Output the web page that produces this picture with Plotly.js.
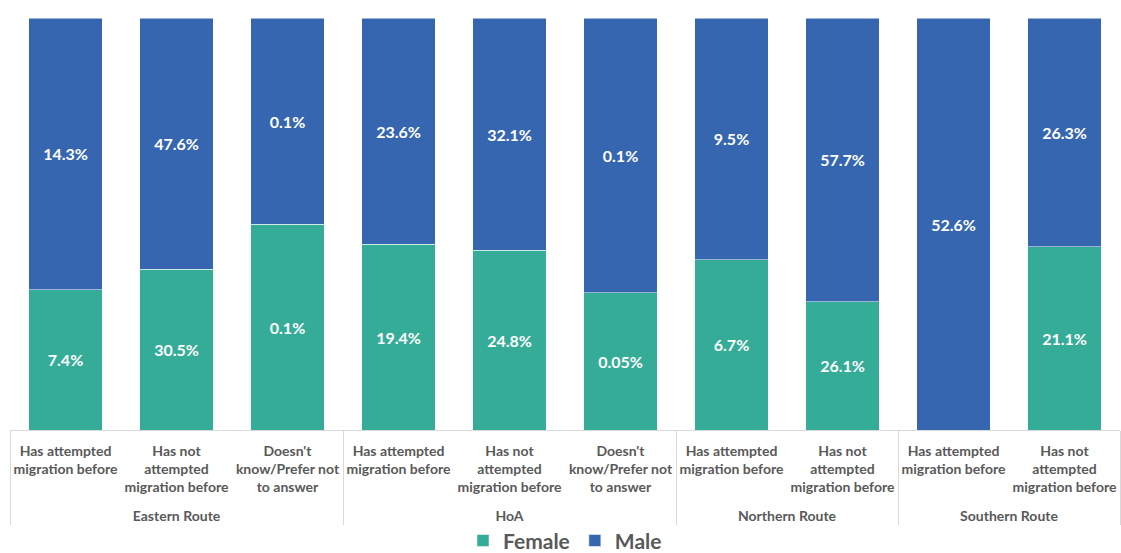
<!DOCTYPE html>
<html>
<head>
<meta charset="utf-8">
<script src="https://cdn.plot.ly/plotly-3.0.1.min.js"></script>
<style>html,body{margin:0;padding:0;background:#fff;}#chart{width:1121px;height:553px;}</style>
</head>
<body>
<div id="chart"></div>
<script>
const groups = ["Eastern Route","Eastern Route","Eastern Route","HoA","HoA","HoA","Northern Route","Northern Route","Southern Route","Southern Route"];
const subcats = [
  "Has attempted<br>migration before<br> <br> ",
  "Has not<br>attempted<br>migration before<br> ",
  "Doesn't<br>know/Prefer not<br>to answer<br> ",
  "Has attempted<br>migration before<br> <br>  ",
  "Has not<br>attempted<br>migration before<br>  ",
  "Doesn't<br>know/Prefer not<br>to answer<br>  ",
  "Has attempted<br>migration before<br> <br>   ",
  "Has not<br>attempted<br>migration before<br>   ",
  "Has attempted<br>migration before<br> <br>    ",
  "Has not<br>attempted<br>migration before<br>    "
];
const female = [7.4, 30.5, 0.1, 19.4, 24.8, 0.05, 6.7, 26.1, 0, 21.1];
const male = [14.3, 47.6, 0.1, 23.6, 32.1, 0.1, 9.5, 57.7, 52.6, 26.3];

const fmt = v => v > 0 ? v + "%" : "";
const FONT = "Lato, 'Open Sans', sans-serif";

const common = {
  type: "bar",
  x: [groups, subcats],
  textposition: "inside",
  insidetextanchor: "middle",
  textangle: 0,
  textfont: {family: FONT, size: 16, color: "#ffffff", weight: "bold"},
  hoverinfo: "skip"
};

const traces = [
  Object.assign({}, common, {
    name: "Female", y: female, text: female.map(fmt),
    marker: {color: "#35ac97", line: {color: "rgba(255,255,255,0.5)", width: 1}}
  }),
  Object.assign({}, common, {
    name: "Male", y: male, text: male.map(fmt),
    marker: {color: "#3766b0", line: {color: "rgba(255,255,255,0.5)", width: 1}}
  })
];

const layout = {
  width: 1121, height: 553,
  margin: {l: 10, r: 1, t: 18, b: 123},
  barmode: "stack",
  barnorm: "percent",
  bargap: 0.34,
  paper_bgcolor: "#ffffff",
  plot_bgcolor: "#ffffff",
  font: {family: FONT, color: "#595959"},
  xaxis: {
    type: "multicategory",
    automargin: false,
    tickangle: 0,
    ticklabelstandoff: 8,
    showline: true, linecolor: "#d9d9d9", linewidth: 1,
    showdividers: true, dividercolor: "#d9d9d9", dividerwidth: 1,
    tickfont: {family: FONT, size: 14, color: "#595959", weight: "bold"},
    ticks: "", showgrid: false
  },
  yaxis: {visible: false, range: [0, 100], showgrid: false, zeroline: false},
  showlegend: true,
  legend: {
    orientation: "h", x: 0.5, xanchor: "center",
    yref: "container", y: 0.022, yanchor: "middle",
    bgcolor: "rgba(0,0,0,0)",
    font: {family: FONT, size: 21, color: "#595959", weight: "bold"},
    traceorder: "normal"
  }
};

Plotly.newPlot("chart", traces, layout, {staticPlot: true, displayModeBar: false});
</script>
</body>
</html>
